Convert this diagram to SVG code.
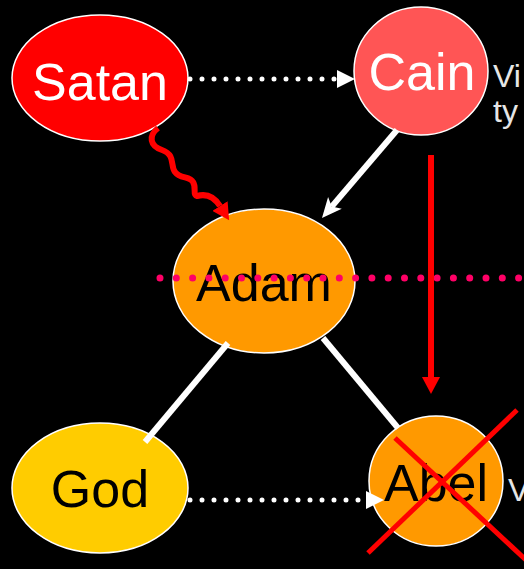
<svg xmlns="http://www.w3.org/2000/svg" width="524" height="569" viewBox="0 0 524 569">
<style>
.node{stroke:#fff;stroke-width:1.5}
.lbl{font-family:"Liberation Sans",Arial,sans-serif;font-size:52px;text-anchor:middle}
.note{font-family:"Liberation Sans",Arial,sans-serif;font-size:32px;fill:#e6e6e6}
.dots{fill:none;stroke:#fff;stroke-width:5;stroke-linecap:round;stroke-dasharray:0 12}
.pdots{fill:none;stroke:#FF0066;stroke-width:7;stroke-linecap:round;stroke-dasharray:0 16.3}
.wline{stroke:#fff;stroke-width:6;fill:none}
.rline{stroke:#FF0000;stroke-width:6;fill:none}
.cross{stroke:#FF0000;stroke-width:5}
</style>
<defs>
<marker id="triW" viewBox="0 0 18 18" refX="0" refY="9" markerWidth="18" markerHeight="18" markerUnits="userSpaceOnUse" orient="auto"><path d="M0,0 L18,9 L0,18 z" fill="#fff"/></marker>
<marker id="notchW" viewBox="0 0 20 20" refX="5" refY="10" markerWidth="20" markerHeight="20" markerUnits="userSpaceOnUse" orient="auto"><path d="M0,1 L20,10 L0,19 L5,10 z" fill="#fff"/></marker>
<marker id="triR" viewBox="0 0 17 18" refX="0" refY="9" markerWidth="17" markerHeight="18" markerUnits="userSpaceOnUse" orient="auto"><path d="M0,0 L17,9 L0,18 z" fill="#FF0000"/></marker>
</defs>
<rect width="524" height="569" fill="#000"/>
<g id="satan"><ellipse class="node" cx="100" cy="78" rx="88" ry="63" fill="#FF0000"/><text class="lbl" x="100" y="100" fill="#fff">Satan</text></g>
<g id="cain"><ellipse class="node" cx="421" cy="71" rx="67" ry="64" fill="#FF5555"/><text class="lbl" x="422" y="90" fill="#fff">Cain</text></g>
<g id="adam"><ellipse class="node" cx="264" cy="281" rx="91" ry="72" fill="#FF9900"/><text class="lbl" x="264" y="301" fill="#000">Adam</text></g>
<g id="god"><ellipse class="node" cx="100" cy="488" rx="88" ry="65" fill="#FFCC00"/><text class="lbl" x="100" y="507" fill="#000">God</text></g>
<g id="abel"><ellipse class="node" cx="436" cy="481" rx="67" ry="65" fill="#FF9900"/><text class="lbl" x="436" y="501" fill="#000">Abel</text></g>
<g id="notes"><text class="note" x="493" y="87">Vi</text><text class="note" x="493" y="122">ty</text><text class="note" x="508" y="501">V</text></g>
<g id="connectors">
<path class="dots" d="M190,79 L337,79" marker-end="url(#triW)"/>
<path class="dots" d="M190,500 L366,500" marker-end="url(#triW)"/>
<path class="wline" d="M397,130 L331.7,206.6" stroke-width="5" marker-end="url(#notchW)"/>
<path class="wline" d="M228,343 L145,442"/>
<path class="wline" d="M323,338 L398,428"/>
<path class="pdots" d="M160,278 L530,278"/>
<path class="rline" d="M431,155 L431,377" marker-end="url(#triR)"/>
<path class="rline" stroke-width="5" d="M158,128 C148,136 150,146 162,150 C176,155 170,166 175,172 C180,179 190,176 193,182 C197,188 192,195 197,196 C204,194 213,195 220,206" marker-end="url(#triR)"/>
</g>
<g id="abel-cross"><line class="cross" x1="395" y1="438" x2="526" y2="560"/><line class="cross" x1="368" y1="553" x2="517" y2="410"/></g>
</svg>
